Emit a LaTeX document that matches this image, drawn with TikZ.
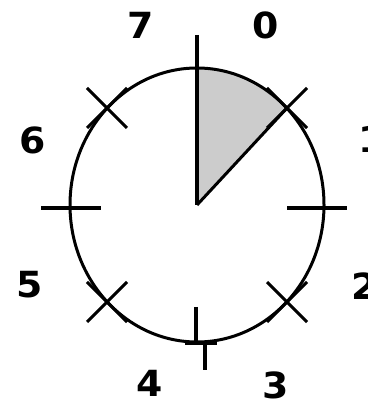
\documentclass[tikz,border=0pt]{standalone}
\usepackage{fontspec}
\setmainfont{DejaVu Sans}
\usetikzlibrary{calc}
\definecolor{sect}{HTML}{CCCCCC}
\begin{document}
\begin{tikzpicture}[x=1pt,y=1pt,line width=3pt,
  lab/.style={font=\fontsize{36}{36}\selectfont\bfseries,inner sep=0pt,xscale=1.05},
  tick/.style={line width=3.5pt}]
\useasboundingbox (0,0) rectangle (367,406);
\coordinate (c) at (197,201);
\coordinate (top) at (197,338);
\coordinate (xur) at (287,298);
\coordinate (xul) at (107,298);
\coordinate (xll) at (107,104);
\coordinate (xlr) at (287,104);
% shaded sector
\fill[sect] (c) -- (top) arc[start angle=90,end angle=45,x radius=127,y radius=137] -- cycle;
% ellipse
\draw (c) ellipse[x radius=127,y radius=137];
% radius lines
\draw[line width=4pt] (c) -- (top);
\draw (c) -- (xur);
% ticks
\draw[tick] (197,371) -- (top);
\draw[tick] (41,198) -- (101,198);
\draw[tick] (287,198) -- (347,198);
\draw[tick] (196,99) -- (196,63) (185,63) -- (217,63) (205,63) -- (205,36);
% x marks
\foreach \p in {xur,xul,xll,xlr}{
  \draw ($(\p)+(-20,-20)$) -- ($(\p)+(20,20)$) ($(\p)+(-20,20)$) -- ($(\p)+(20,-20)$);
}
% labels
\node[lab] (l0) at (265.5,380.5) {0};
\node[lab] (l7) at (141,381) {7};
\node[lab] (l6) at (33,266) {6};
\node[lab] (l1) at (372,267) {1};
\node[lab] (l5) at (30,121) {5};
\node[lab] (l2) at (365,120) {2};
\node[lab] (l4) at (150,23) {4};
\node[lab] (l3) at (276,21) {3};
\end{tikzpicture}
\end{document}
